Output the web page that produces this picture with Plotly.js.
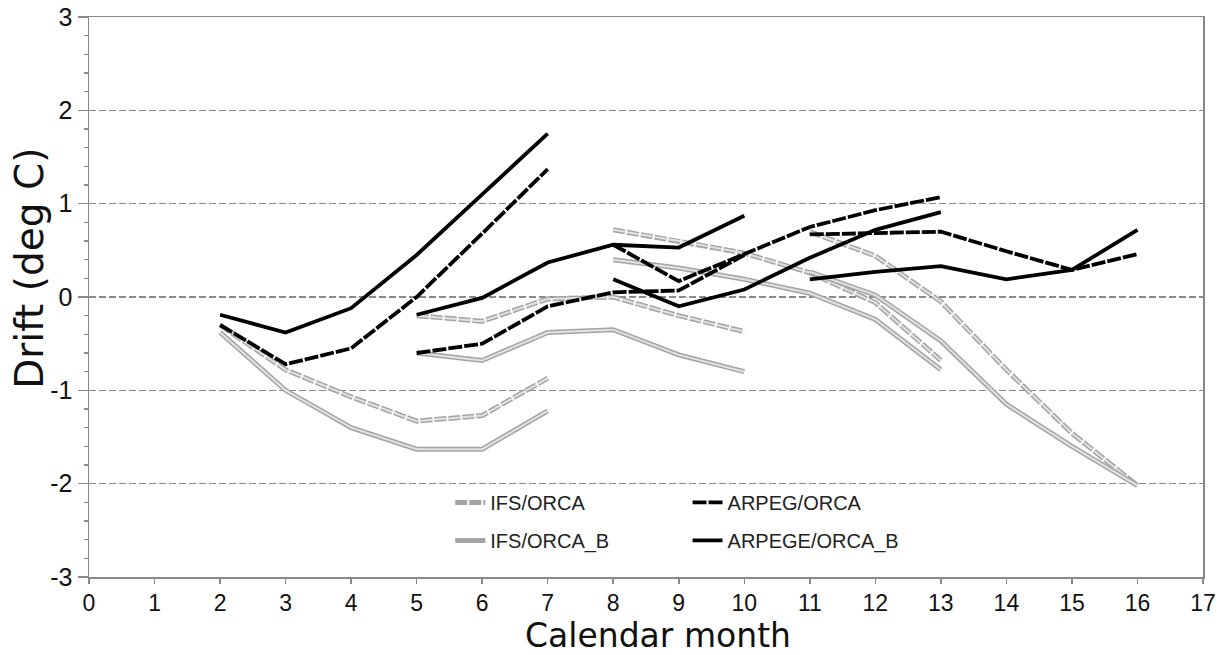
<!DOCTYPE html>
<html>
<head>
<meta charset="utf-8">
<script src="https://cdn.plot.ly/plotly-3.0.1.min.js"></script>
<style>
  html, body { margin: 0; padding: 0; background: #fff; }
  #chart { width: 1230px; height: 655px; }
</style>
</head>
<body>
<div id="chart"></div>
<script>
// ---- data ----
const runMonths = [
  [2, 3, 4, 5, 6, 7],
  [5, 6, 7, 8, 9, 10],
  [8, 9, 10, 11, 12, 13],
  [11, 12, 13, 14, 15, 16]
];
const ifsOrca = [
  [-0.30, -0.78, -1.07, -1.33, -1.27, -0.87],
  [-0.20, -0.26, -0.02, 0.00, -0.20, -0.37],
  [0.72, 0.60, 0.47, 0.26, -0.06, -0.68],
  [0.70, 0.44, -0.05, -0.78, -1.46, -2.02]
];
const ifsOrcaB = [
  [-0.38, -1.00, -1.40, -1.63, -1.63, -1.22],
  [-0.60, -0.68, -0.38, -0.35, -0.62, -0.80],
  [0.40, 0.31, 0.19, 0.04, -0.24, -0.78],
  [0.27, 0.02, -0.47, -1.15, -1.60, -2.02]
];
const arpegOrca = [
  [-0.30, -0.72, -0.55, 0.00, 0.68, 1.37],
  [-0.60, -0.50, -0.10, 0.05, 0.07, 0.45],
  [0.56, 0.17, 0.46, 0.75, 0.93, 1.07],
  [0.67, 0.69, 0.70, 0.49, 0.29, 0.46]
];
const arpegeOrcaB = [
  [-0.19, -0.38, -0.12, 0.45, 1.10, 1.75],
  [-0.19, -0.01, 0.37, 0.56, 0.53, 0.87],
  [0.19, -0.10, 0.08, 0.42, 0.72, 0.91],
  [0.19, 0.27, 0.33, 0.19, 0.29, 0.72]
];
const seriesNames = ['IFS/ORCA', 'IFS/ORCA_B', 'ARPEG/ORCA', 'ARPEGE/ORCA_B'];
const xTicks = [0,1,2,3,4,5,6,7,8,9,10,11,12,13,14,15,16,17];
const yTicks = [-3,-2,-1,0,1,2,3];
const xTitle = 'Calendar month';
const yTitle = 'Drift (deg C)';

// join the runs into one broken line per model
function joinRuns(runs) {
  const x = [], y = [];
  runs.forEach((vals, r) => {
    if (r > 0) { x.push(null); y.push(null); }
    runMonths[r].forEach((m, i) => { x.push(m); y.push(vals[i]); });
  });
  return {x, y};
}

const FONT = 'Liberation Sans, Arial, Helvetica, sans-serif';
const TITLE_FONT = 'DejaVu Sans, Liberation Sans, Arial, sans-serif';
const traces = [];

function greyModel(runs, name, dash, legendId) {
  const d = joinRuns(runs);
  traces.push({
    type: 'scatter', mode: 'lines', x: d.x, y: d.y, name: name,
    legend: legendId, legendgroup: name, connectgaps: false,
    line: {color: '#a4a4a4', width: 5, dash: dash}
  });
  traces.push({
    type: 'scatter', mode: 'lines', x: d.x, y: d.y, name: name,
    legendgroup: name, showlegend: false, connectgaps: false, hoverinfo: 'skip',
    line: {color: '#e2e2e2', width: 2, dash: dash}
  });
}
function blackModel(runs, name, dash, legendId) {
  const d = joinRuns(runs);
  traces.push({
    type: 'scatter', mode: 'lines', x: d.x, y: d.y, name: name,
    legend: legendId, legendgroup: name, connectgaps: false,
    line: {color: '#000000', width: 3.8, dash: dash}
  });
}

greyModel(ifsOrca, seriesNames[0], '12px,2px', 'legend');
greyModel(ifsOrcaB, seriesNames[1], 'solid', 'legend');
blackModel(arpegOrca, seriesNames[2], '14px,2px', 'legend2');
blackModel(arpegeOrcaB, seriesNames[3], 'solid', 'legend2');

const legendCommon = {
  orientation: 'v', xanchor: 'left', yanchor: 'top',
  bgcolor: 'rgba(0,0,0,0)', borderwidth: 0,
  font: {family: FONT, size: 20, color: '#222'},
  tracegroupgap: 9, traceorder: 'grouped'
};

const layout = {
  width: 1230, height: 655,
  margin: {l: 89, r: 27, t: 17, b: 78},
  paper_bgcolor: '#ffffff', plot_bgcolor: '#ffffff',
  showlegend: true,
  legend: Object.assign({}, legendCommon, {x: 0.3243, y: 0.168}),
  legend2: Object.assign({}, legendCommon, {x: 0.5373, y: 0.168}),
  xaxis: {
    range: [0, 17], tickvals: xTicks, ticktext: xTicks.map(String),
    ticks: 'outside', ticklen: 5, tickwidth: 1.5, tickcolor: '#888',
    showline: true, linecolor: '#888', linewidth: 1.5, mirror: true,
    showgrid: false, zeroline: false,
    tickfont: {family: FONT, size: 23, color: '#111'}
  },
  yaxis: {
    range: [-3, 3], tickvals: yTicks, ticktext: yTicks.map(String),
    ticks: 'outside', ticklen: 10, tickwidth: 1.5, tickcolor: '#888',
    minor: {dtick: 0.2, tick0: 0, ticks: 'outside', ticklen: 4, tickwidth: 1.5, tickcolor: '#888', showgrid: false},
    showline: true, linecolor: '#888', linewidth: 1.5, mirror: true,
    showgrid: true, gridcolor: '#8a8a8a', gridwidth: 1.2, griddash: '7px,3px',
    zeroline: false,
    tickfont: {family: FONT, size: 25, color: '#111'}
  },
  annotations: [
    {text: xTitle, xref: 'paper', yref: 'paper', x: 0.511, y: -0.1429,
     xanchor: 'center', yanchor: 'bottom', showarrow: false,
     font: {family: TITLE_FONT, size: 33, color: '#111'}},
    {text: yTitle, xref: 'paper', yref: 'paper', x: -0.053, y: 0.552,
     xanchor: 'center', yanchor: 'middle', showarrow: false, textangle: -90,
     font: {family: TITLE_FONT, size: 39, color: '#111'}}
  ]
};

Plotly.newPlot('chart', traces, layout, {staticPlot: true, displayModeBar: false});
</script>
</body>
</html>
